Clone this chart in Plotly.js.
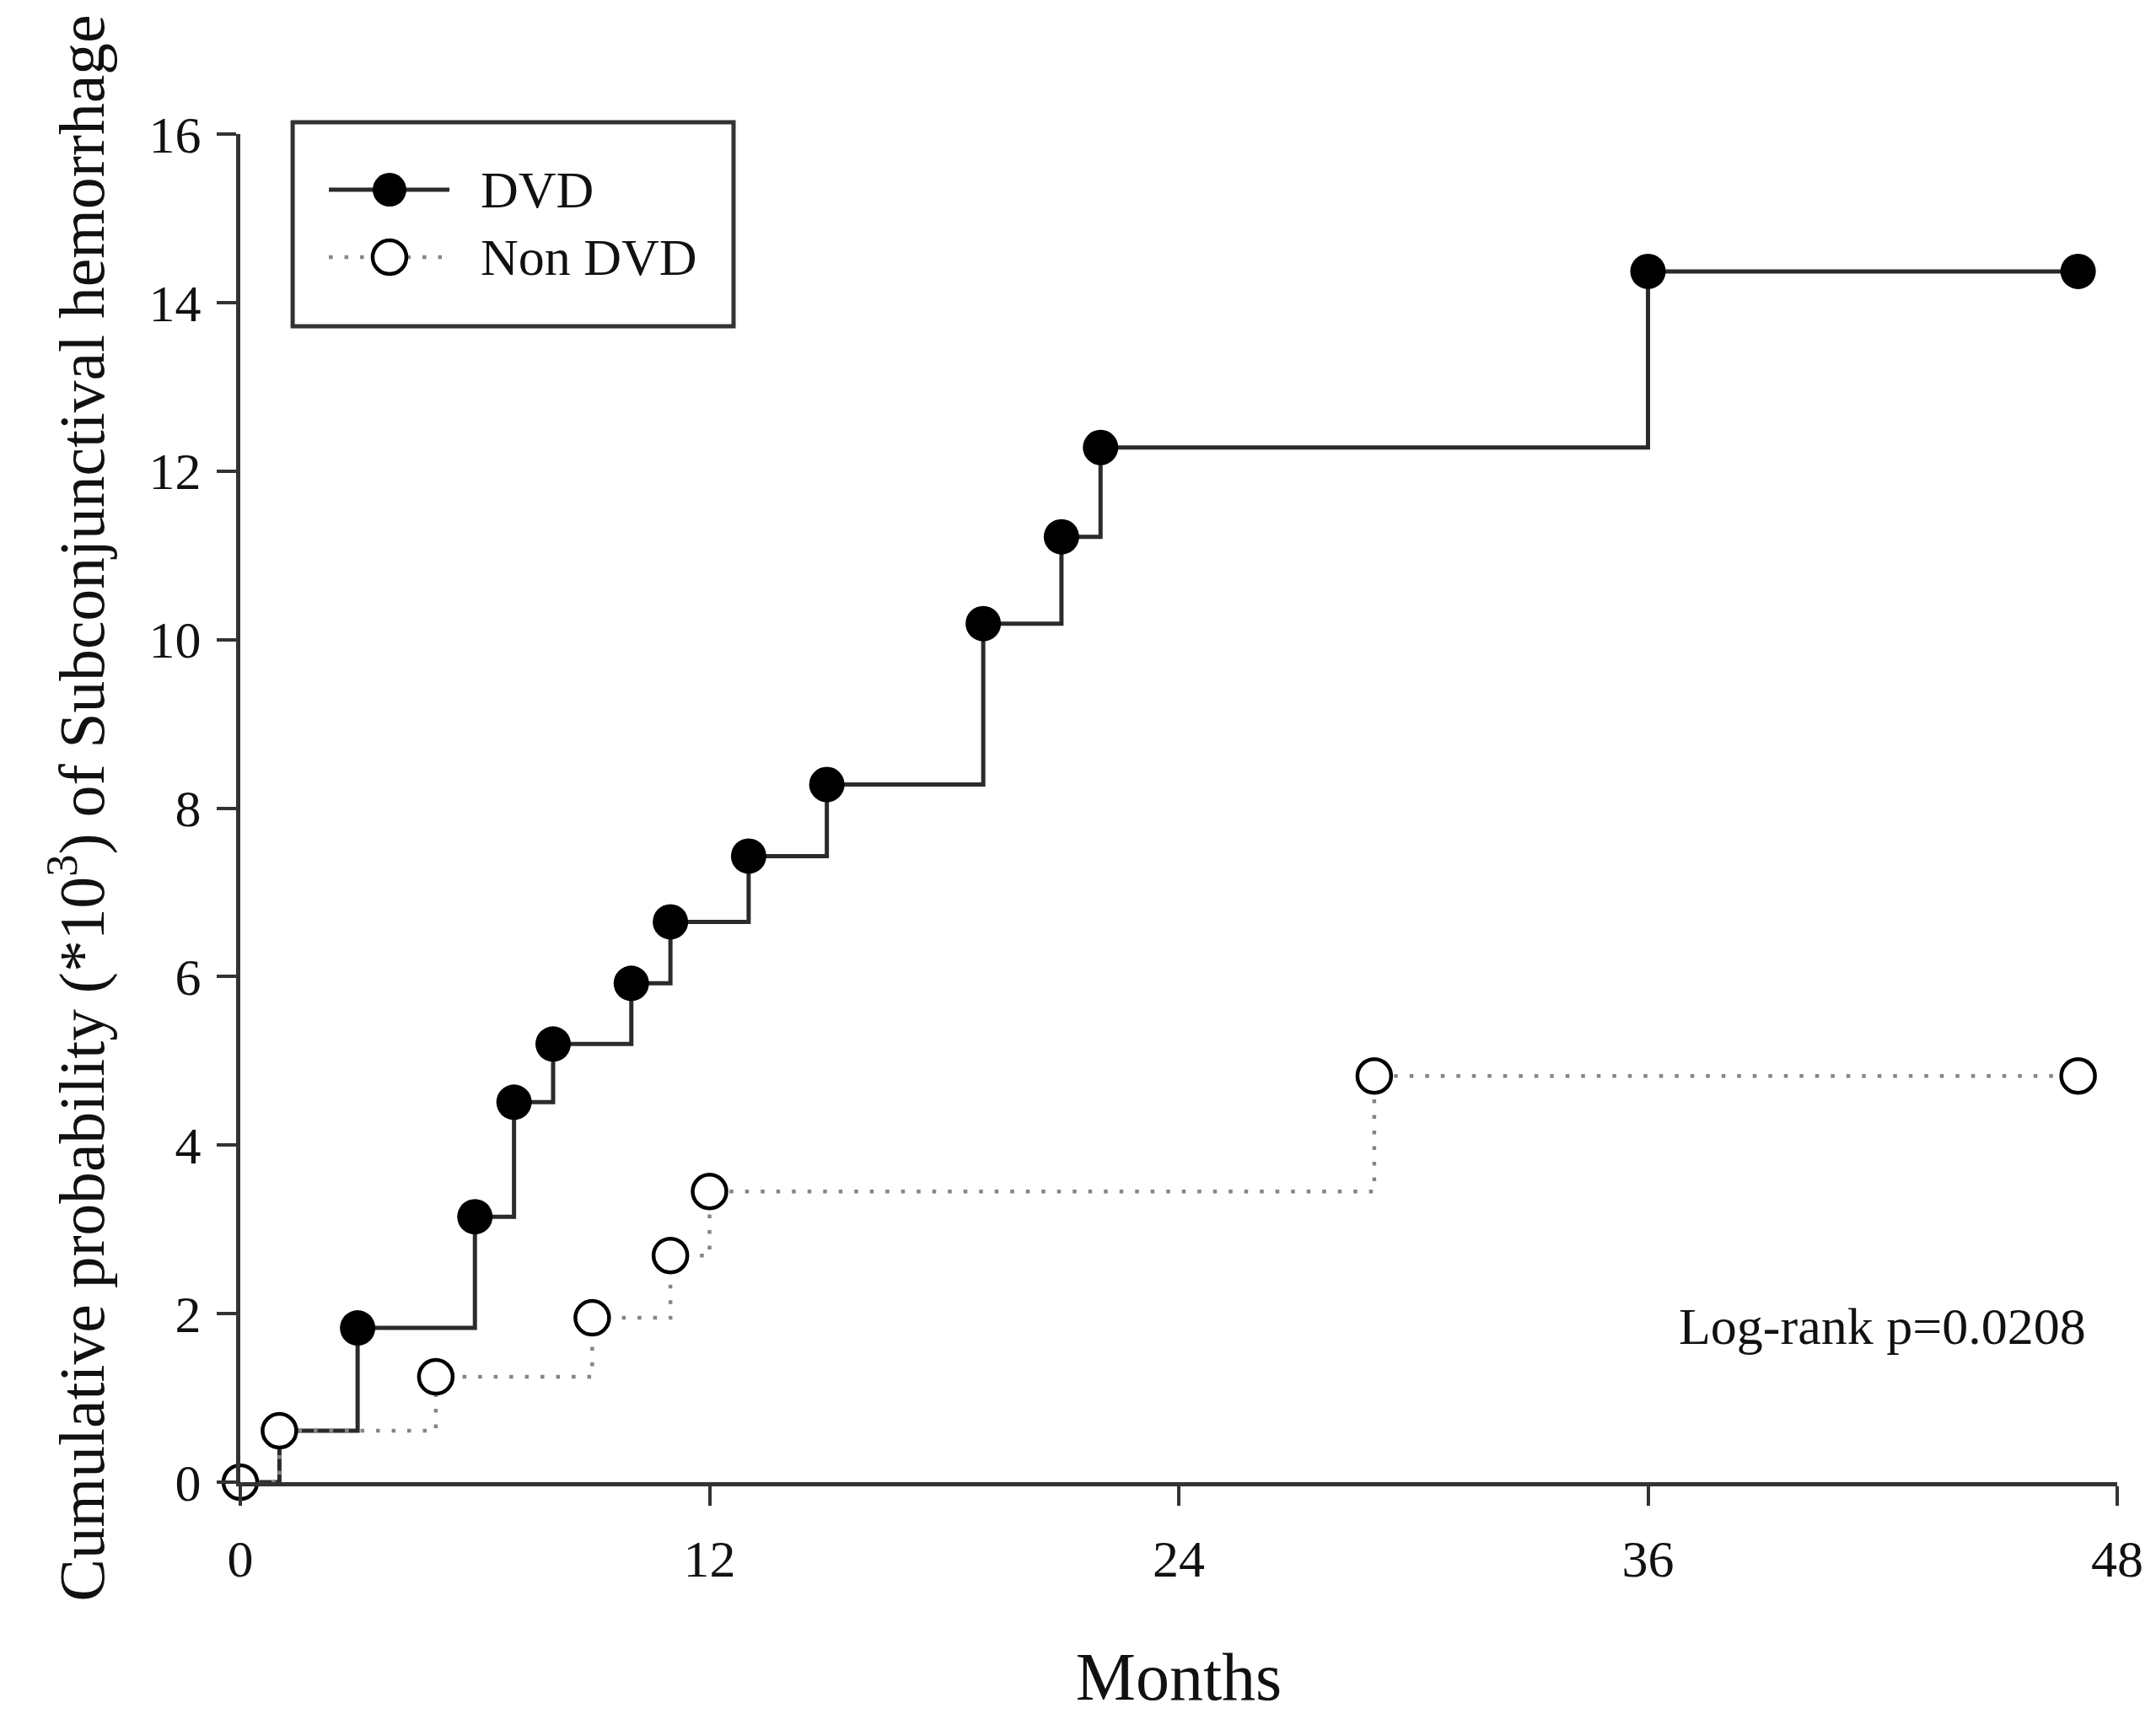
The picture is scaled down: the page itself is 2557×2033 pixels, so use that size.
<!DOCTYPE html>
<html>
<head>
<meta charset="utf-8">
<script src="https://cdn.plot.ly/plotly-3.0.1.min.js"></script>
<style>
  html, body { margin: 0; padding: 0; background: #fff; }
  #chart { width: 2557px; height: 2033px; }
</style>
</head>
<body>
<div id="chart"></div>
<script>
// Cumulative probability of subconjunctival hemorrhage (x10^3)
const dvdMonths = [0, 1, 3, 6, 7, 8, 10, 11, 13, 15, 19, 21, 22, 36, 47];
const dvdProb = [0, 0.61, 1.83, 3.15, 4.51, 5.20, 5.92, 6.65, 7.43, 8.28, 10.19, 11.22, 12.28, 14.37, 14.37];

const nonMonths = [0, 1, 5, 9, 11, 12, 29, 47];
const nonProb = [0, 0.61, 1.25, 1.95, 2.69, 3.45, 4.82, 4.82];

const xTicks = [0, 12, 24, 36, 48];
const yTicks = [0, 2, 4, 6, 8, 10, 12, 14, 16];

const seriesNames = ['DVD', 'Non DVD'];
const pValueText = 'Log-rank p=0.0208';

const FONT = 'Liberation Serif, Times New Roman, serif';
const AXIS = '#333333';

const dvdTrace = {
    x: dvdMonths,
    y: dvdProb,
    type: 'scatter',
    mode: 'lines+markers',
    name: seriesNames[0],
    line: { shape: 'hv', color: '#2b2b2b', width: 5 },
    marker: { symbol: 'circle', size: 42, color: '#000000', line: { width: 0 } },
    cliponaxis: false
};

const nonTrace = {
    x: nonMonths,
    y: nonProb,
    type: 'scatter',
    mode: 'lines+markers',
    name: seriesNames[1],
    line: { shape: 'hv', color: '#858585', width: 4.5, dash: '4.5px,14px' },
    marker: { symbol: 'circle', size: 40, color: '#ffffff', line: { width: 4.5, color: '#000000' } },
    cliponaxis: false
};

// hand-drawn legend box (Plotly's own legend can't do long glyph lines)
const legRows = [
    { y: 0.9587, name: seriesNames[0], dash: 'solid', lc: '#2b2b2b', fill: '#000000', lw: 5 },
    { y: 0.9087, name: seriesNames[1], dash: '4.5px,14px', lc: '#858585', fill: '#ffffff', lw: 4.5 }
];
const shapes = [{
    type: 'rect', xref: 'paper', yref: 'paper',
    x0: 0.0279, x1: 0.2628, y0: 0.8574, y1: 1.0088,
    line: { color: AXIS, width: 5 }, fillcolor: 'rgba(0,0,0,0)'
}];
const annotations = [];
legRows.forEach(r => {
    shapes.push({
        type: 'line', xref: 'paper', yref: 'paper',
        x0: 0.0472, x1: 0.1114, y0: r.y, y1: r.y,
        line: { color: r.lc, width: r.lw, dash: r.dash }
    });
    shapes.push({
        type: 'circle', xref: 'paper', yref: 'paper',
        xsizemode: 'pixel', ysizemode: 'pixel',
        xanchor: 0.0795, yanchor: r.y,
        x0: -20, x1: 20, y0: -20, y1: 20,
        fillcolor: r.fill,
        line: { color: '#000000', width: r.fill === '#ffffff' ? 4.5 : 0 }
    });
    annotations.push({
        xref: 'paper', yref: 'paper', x: 0.1271, y: r.y,
        xanchor: 'left', yanchor: 'middle', showarrow: false,
        text: r.name, font: { family: FONT, size: 62, color: '#111111' }
    });
});
annotations.push({
    xref: 'x', yref: 'y', x: 47.25, y: 1.85,
    xanchor: 'right', yanchor: 'middle', showarrow: false,
    text: pValueText, font: { family: FONT, size: 62, color: '#111111' }
});

const layout = {
    width: 2557,
    height: 2033,
    margin: { l: 285, r: 46, t: 159, b: 275 },
    paper_bgcolor: '#ffffff',
    plot_bgcolor: '#ffffff',
    showlegend: false,
    font: { family: FONT, color: '#111111' },
    xaxis: {
        range: [0, 48],
        tickvals: xTicks,
        ticktext: xTicks.map(String),
        showgrid: false,
        zeroline: false,
        showline: true,
        linecolor: AXIS,
        linewidth: 5,
        ticks: 'outside',
        ticklen: 23,
        tickwidth: 4,
        tickcolor: AXIS,
        tickfont: { family: FONT, size: 62, color: '#111111' },
        ticklabelstandoff: 10,
        title: { text: 'Months', font: { family: FONT, size: 80, color: '#111111' }, standoff: 104 },
        automargin: false,
        fixedrange: true
    },
    yaxis: {
        range: [0, 16],
        tickvals: yTicks,
        ticktext: yTicks.map(String),
        showgrid: false,
        zeroline: false,
        showline: true,
        linecolor: AXIS,
        linewidth: 5,
        ticks: 'outside',
        ticklen: 23,
        tickwidth: 4,
        tickcolor: AXIS,
        tickfont: { family: FONT, size: 62, color: '#111111' },
        ticklabelstandoff: 6,
        title: {
            text: 'Cumulative probability (*10<sup>3</sup>) of Subconjunctival hemorrhage',
            font: { family: FONT, size: 75.5, color: '#111111' },
            standoff: 30
        },
        automargin: false,
        fixedrange: true
    },
    shapes: shapes,
    annotations: annotations
};

Plotly.newPlot('chart', [dvdTrace, nonTrace], layout, { displayModeBar: false, responsive: false });
</script>
</body>
</html>
